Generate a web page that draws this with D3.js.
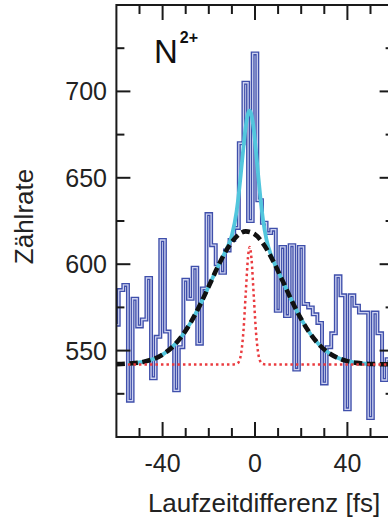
<!DOCTYPE html>
<html><head><meta charset="utf-8">
<script src="https://cdn.jsdelivr.net/npm/d3@7"></script>
<style>body{margin:0;background:#fff}svg{display:block}</style>
</head><body>
<svg id="c" width="388" height="521"></svg>
<script>
// ---- data ----
const binCenters = [-60,-58,-56,-54,-52,-50,-48,-46,-44,-42,-40,-38,-36,-34,-32,-30,-28,-26,-24,-22,-20,-18,-16,-14,-12,-10,-8,-6,-4,-2,0,2,4,6,8,10,12,14,16,18,20,22,24,26,28,30,32,34,36,38,40,42,44,46,48,50,52,54,56,58];
const counts = [565,585,588,521,580,564,568,592,534,558,614,561,552,527,552,591,580,598,554,586,629,611,600,595,608,614,621,670,705,625,722,637,624,618,620,573,610,570,611,539,610,577,575,571,566,531,552,560,593,582,516,582,576,572,572,511,572,560,533,545];
const binWidth = 2;

const broadX = [-60,-56,-52,-48,-44,-40,-36,-32,-28,-24,-20,-16,-12,-8,-4,0,4,8,12,16,20,24,28,32,36,40,44,48,52,56,60];
const broadY = [542.2,542.4,542.8,543.6,545.1,547.7,551.8,557.8,565.9,575.9,587.2,598.8,608.9,616.0,619.0,617.2,611.0,601.5,590.2,578.6,568.2,559.6,553.1,548.6,545.7,543.9,542.9,542.4,542.2,542.1,542.0];

const fitX = [-55,-52,-48,-44,-40,-36,-32,-28,-24,-20,-16,-14,-12,-10,-8,-7,-6,-5,-4,-3,-2.3,-1.5,-0.5,0.5,1.5,2.5,3.5,5,7,10,12,16,20,24,28,32,36,40,44,48,51];
const fitY = [542.3,542.8,543.6,545.1,547.7,551.8,557.8,565.9,575.9,587.2,598.8,604.1,609.6,616.8,630.3,641.0,654.0,667.7,679.8,687.3,688.8,686.2,677.5,664.3,649.9,636.5,625.5,614.1,605.1,595.9,590.2,578.6,568.2,559.6,553.1,548.6,545.7,543.9,542.9,542.4,542.2];

const narrowX = [-55,-10,-8,-7,-6,-5,-4,-3,-2.3,-1.5,-0.5,0.5,1.5,2.5,3.5,5,57];
const narrowY = [542,542,542.3,543.5,548.4,561.3,583.3,604.5,610,602.9,580.8,559.5,547.6,543.3,542.2,542,542];

const xMajor = [-40,0,40];
const xMinor = [-50,-30,-20,-10,10,20,30,50];
const yMajor = [550,600,650,700];
const yMinor = [525,575,625,675,725];

// ---- drawing ----
const svg = d3.select("#c");
const L = 116.4, R = 393.6, T = 5, B = 437;
const x = d3.scaleLinear().domain([-60,60]).range([L,R]);
const y = d3.scaleLinear().domain([500,750]).range([B,T]);
const font = "'Liberation Sans', Arial, Helvetica, sans-serif";

svg.append("rect").attr("width",388).attr("height",521).attr("fill","#fff");
svg.append("defs").append("clipPath").attr("id","clip")
  .append("rect").attr("x",L).attr("y",T).attr("width",R-L).attr("height",B-T);

const g = svg.append("g").attr("clip-path","url(#clip)");

// histogram step outline
const pts = binCenters.map((c,i)=>[c-binWidth/2, counts[i]]);
pts.push([binCenters[binCenters.length-1]+binWidth/2, counts[counts.length-1]]);
const step = d3.line().x(d=>x(d[0])).y(d=>y(d[1])).curve(d3.curveStepAfter);
g.append("path").attr("d",step(pts)).attr("fill","none")
  .attr("stroke","#3f4fab").attr("stroke-width",4).attr("stroke-linejoin","miter");
g.append("path").attr("d",step(pts)).attr("fill","none")
  .attr("stroke","#cdd2f0").attr("stroke-width",1.3);

const smooth = d3.line().x(d=>x(d[0])).y(d=>y(d[1])).curve(d3.curveMonotoneX);

// cyan total fit
g.append("path").attr("d",smooth(fitX.map((v,i)=>[v,fitY[i]])))
  .attr("fill","none").attr("stroke","#52c6dd").attr("stroke-width",3.8);

// black dashed broad gaussian
g.append("path").attr("d",smooth(broadX.map((v,i)=>[v,broadY[i]])))
  .attr("fill","none").attr("stroke","#111").attr("stroke-width",4.6)
  .attr("stroke-dasharray","8.5 4.5");

// red dotted narrow gaussian
g.append("path").attr("d",smooth(narrowX.map((v,i)=>[v,narrowY[i]])))
  .attr("fill","none").attr("stroke","#ea3b3f").attr("stroke-width",2.5)
  .attr("stroke-dasharray","2.5 3");

// frame
svg.append("rect").attr("x",L).attr("y",T).attr("width",R-L).attr("height",B-T)
  .attr("fill","none").attr("stroke","#1a1a1a").attr("stroke-width",2);

// ticks
const tk = svg.append("g").attr("stroke","#1a1a1a").attr("stroke-width",2);
function xt(vals,len){
  vals.forEach(v=>{
    tk.append("line").attr("x1",x(v)).attr("x2",x(v)).attr("y1",B).attr("y2",B-len);
    tk.append("line").attr("x1",x(v)).attr("x2",x(v)).attr("y1",T).attr("y2",T+len);
  });
}
function yt(vals,len){
  vals.forEach(v=>{
    tk.append("line").attr("y1",y(v)).attr("y2",y(v)).attr("x1",L).attr("x2",L+len);
    tk.append("line").attr("y1",y(v)).attr("y2",y(v)).attr("x1",R).attr("x2",R-len);
  });
}
xt(xMajor,15); xt(xMinor,9); yt(yMajor,14); yt(yMinor,8);

// tick labels
svg.append("g").selectAll("text").data(xMajor).join("text")
  .attr("x",d=>x(d)).attr("y",472).attr("text-anchor","middle")
  .attr("font-family",font).attr("font-size",25).attr("fill","#222")
  .text(d=>d);
svg.append("g").selectAll("text").data(yMajor).join("text")
  .attr("x",107).attr("y",d=>y(d)+9).attr("text-anchor","end")
  .attr("font-family",font).attr("font-size",25).attr("fill","#222")
  .text(d=>d);

// axis titles
svg.append("text").attr("x",264).attr("y",512).attr("text-anchor","middle")
  .attr("font-family",font).attr("font-size",26).attr("fill","#222")
  .text("Laufzeitdifferenz [fs]");
svg.append("text").attr("transform","translate(33,216.5) rotate(-90)")
  .attr("text-anchor","middle").attr("font-family",font).attr("font-size",26).attr("fill","#222")
  .text("Zählrate");

// ion label
const lab = svg.append("text").attr("x",154).attr("y",63)
  .attr("font-family",font).attr("fill","#111");
lab.append("tspan").attr("font-size",33).text("N");
lab.append("tspan").attr("font-size",16).attr("font-weight","bold").attr("dy",-20).attr("dx",2).text("2+");
</script>
</body></html>
